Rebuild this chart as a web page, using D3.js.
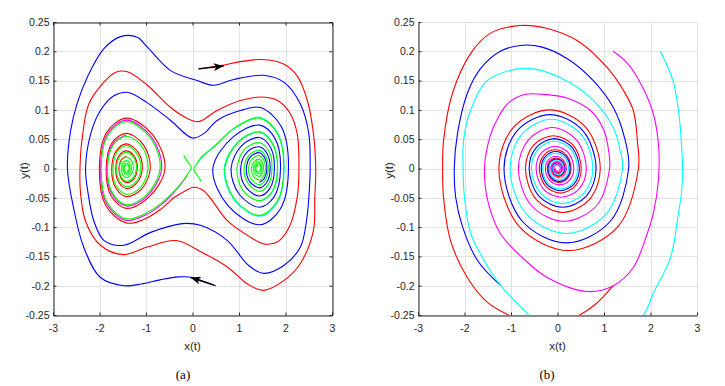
<!DOCTYPE html>
<html>
<head>
<meta charset="utf-8">
<style>
    body { margin: 0; background: #fff; }
    svg { display: block; }
    .tick text {
        font-family: 'Liberation Sans Narrow', 'Arial Narrow', 'Liberation Sans', Arial, sans-serif;
        font-size: 10.5px;
        fill: #262626;
    }
    .tick line { stroke: #262626; }
    .domain { stroke: #262626; }
    .grid line { stroke: #e2e2e2; shape-rendering: crispEdges; }
    .axis-label {
        font-family: 'Liberation Sans Narrow', 'Arial Narrow', 'Liberation Sans', Arial, sans-serif;
        font-size: 11.5px;
        fill: #262626;
    }
    .caption {
        font-family: 'Liberation Serif', 'Times New Roman', serif;
        font-size: 13px;
        fill: #000;
    }
    .traj { fill: none; stroke-width: 1.1; stroke-linejoin: round; }
</style>
</head>
<body>
<svg width="725" height="386"></svg>

<script src="https://d3js.org/d3.v7.min.js"></script>
<script>

// ---- ticks ----
let xTicks = [-3, -2, -1, 0, 1, 2, 3]
let xTickLabels = ["-3", "-2", "-1", "0", "1", "2", "3"]
let yTicks = [-0.25, -0.2, -0.15, -0.1, -0.05, 0, 0.05, 0.1, 0.15, 0.2, 0.25]
let yTickLabels = ["-0.25", "-0.2", "-0.15", "-0.1", "-0.05", "0", "0.05", "0.1", "0.15", "0.2", "0.25"]

// ---- panel (a): double well, points as [x, y] ----
let blueA = [[0.5,-0.2],[0.25,-0.193],[0,-0.186],[-0.3,-0.185],[-0.7,-0.19],[-1.1,-0.197],[-1.48,-0.2],[-1.98,-0.186],
    [-2.34,-0.134],[-2.55,-0.07],[-2.69,0],[-2.62,0.065],[-2.48,0.111],[-2.26,0.156],[-1.91,0.204],[-1.55,0.225],
    [-1.19,0.224],[-0.97,0.207],[-0.47,0.167],[0.1,0.15],[0.46,0.142],[0.89,0.152],[1.53,0.159],[1.97,0.147],
    [2.32,0.11],[2.5,0.06],[2.53,0],[2.51,-0.04],[2.45,-0.09],[2.32,-0.134],[1.97,-0.165],[1.53,-0.179],
    [1.2,-0.165],[0.75,-0.123],[0.17,-0.097],[-0.22,-0.094],[-0.9,-0.109],[-1.48,-0.131],[-1.9,-0.123],[-2.12,-0.09],
    [-2.25,-0.04],[-2.3,0],[-2.19,0.059],[-1.98,0.099],[-1.69,0.124],[-1.4,0.13],[-0.97,0.112],[-0.47,0.082],
    [0,0.052],[0.25,0.06],[0.53,0.082],[1.03,0.099],
    [1.46,0.104],[1.906,0.072],[2.064,0],[1.889,-0.069],[1.45,-0.096],[0.759,-0.063],[0.438,0],[0.876,0.054],
    [1.44,0.074],[1.775,0.051],[1.893,0],[1.757,-0.048],[1.44,-0.066],[1.004,-0.044],[0.83,0],[1.058,0.039],
    [1.44,0.053],[1.678,0.036],[1.762,0],[1.664,-0.034],[1.44,-0.047],[1.138,-0.031],[1.036,0],[1.173,0.028],
    [1.44,0.037],[1.605,0.025],[1.67,0],[1.595,-0.024],[1.44,-0.033],[1.227,-0.022],[1.16,0],[1.246,0.02],
    [1.44,0.027],[1.554,0.018],[1.601,0],[1.544,-0.017],[1.44,-0.0235]]

let redA = [[0.13,0.17],[0.64,0.176],[1.0,0.182],[1.5,0.186],[1.97,0.178],[2.25,0.158],[2.47,0.116],[2.6,0.06],
    [2.65,0],[2.63,-0.05],[2.6,-0.106],[2.32,-0.162],[1.97,-0.191],[1.53,-0.208],[1.2,-0.198],[0.75,-0.168],
    [0.2,-0.143],[-0.35,-0.123],[-0.97,-0.134],[-1.48,-0.147],[-1.98,-0.131],[-2.3,-0.09],[-2.41,-0.04],[-2.42,0],
    [-2.37,0.053],[-2.23,0.11],[-1.91,0.147],[-1.66,0.164],[-1.4,0.165],[-0.97,0.142],[-0.47,0.104],[-0.1,0.085],
    [0.13,0.08],[0.53,0.099],[1.03,0.116],[1.46,0.122],[1.83,0.116],[2.1,0.094],[2.25,0.06],[2.29,0],
    [2.25,-0.05],[2.08,-0.1],[1.85,-0.124],[1.55,-0.129],[1.2,-0.115],[0.75,-0.089],[0.24,-0.038],[0.02,-0.032],
    [-0.15,-0.038],[-0.4,-0.05],[-0.69,-0.07],[-1.05,-0.087],
    [-1.42,-0.093],[-1.859,-0.064],[-2.003,0],[-1.842,0.062],[-1.42,0.086],[-0.849,0.057],[-0.592,0],[-0.938,-0.049],
    [-1.42,-0.068],[-1.748,-0.047],[-1.856,0],[-1.73,0.044],[-1.42,0.06],[-1.051,0.04],[-0.908,0],[-1.095,-0.035],
    [-1.42,-0.048],[-1.654,-0.033],[-1.737,0],[-1.64,0.03],[-1.42,0.042],[-1.173,0.028],[-1.079,0],[-1.2,-0.025],
    [-1.42,-0.034],[-1.59,-0.023],[-1.65,0],[-1.58,0.022],[-1.42,0.03],[-1.246,0.02],[-1.188,0],[-1.265,-0.018],
    [-1.42,-0.024],[-1.539,-0.016],[-1.58,0],[-1.531,0.015],[-1.42,0.021]]

let magentaA = [[-0.12,-0.012],[-0.3,-0.032],[-0.6,-0.057],[-0.95,-0.077],
    [-1.42,-0.0885],[-1.839,-0.061],[-1.977,0],[-1.827,0.059],[-1.42,0.0825],[-0.885,0.054],[-0.664,0],[-0.972,-0.047],
    [-1.42,-0.064],[-1.73,-0.044],[-1.838,0],[-1.715,0.042],[-1.42,0.057]]

let cyanA = [[0.12,0.011],[0.3,0.026],[0.6,0.048],[0.95,0.071],
    [1.44,0.0875],[1.835,0.06],[1.971,0],[1.822,-0.058],[1.44,-0.0815],[0.894,-0.053],[0.681,0],[0.98,0.046],
    [1.44,0.063],[1.725,0.043],[1.832,0],[1.711,-0.041],[1.44,-0.056]]

let greenLeftA = [[-0.19,0.022],[-0.1,0.011],[-0.025,0.001],[-0.1,-0.009],[-0.19,-0.02],[-0.54,-0.05],[-0.95,-0.074],
    [-1.42,-0.086],[-1.829,-0.059],[-1.963,0],[-1.816,0.057],[-1.42,0.08],[-0.903,0.052],[-0.697,0],[-0.988,-0.045],
    [-1.42,-0.062],[-1.72,-0.042],[-1.826,0],[-1.707,0.04],[-1.42,0.055],[-1.081,0.037],[-0.957,0],[-1.124,-0.033],
    [-1.42,-0.044],[-1.64,-0.03],[-1.71,0],[-1.625,0.028],[-1.42,0.039],[-1.193,0.025],[-1.11,0],[-1.22,-0.023],
    [-1.42,-0.031],[-1.575,-0.021],[-1.63,0],[-1.565,0.02],[-1.42,0.0275],[-1.259,0.018],[-1.207,0],[-1.278,-0.016],
    [-1.42,-0.022],[-1.528,-0.015],[-1.57,0],[-1.523,0.014],[-1.42,0.0195],[-1.308,0.013],[-1.271,0],[-1.321,-0.011],
    [-1.42,-0.0155],[-1.497,-0.011],[-1.526,0],[-1.491,0.01],[-1.42,0.0135],[-1.342,0.009],[-1.315,0],[-1.348,-0.008],
    [-1.42,-0.011],[-1.473,-0.007],[-1.492,0],[-1.467,0.007],[-1.42,0.009],[-1.365,0.006],[-1.349,0],[-1.369,-0.0055],
    [-1.42,-0.0075],[-1.457,-0.0045],[-1.468,0],[-1.454,0.004],[-1.415,0.006],[-1.375,0.004],[-1.362,0],[-1.378,-0.0035],[-1.415,-0.0045]]

let greenRightA = [[0.19,-0.022],[0.1,-0.011],[0.025,-0.001],[0.1,0.009],[0.19,0.02],[0.45,0.036],[0.88,0.068],
    [1.44,0.086],[1.829,0.059],[1.963,0],[1.816,-0.057],[1.44,-0.08],[0.903,-0.052],[0.697,0],[0.988,0.045],
    [1.44,0.062],[1.72,0.042],[1.826,0],[1.707,-0.04],[1.44,-0.055],[1.081,-0.037],[0.957,0],[1.124,0.033],
    [1.44,0.044],[1.64,0.03],[1.71,0],[1.625,-0.028],[1.44,-0.039],[1.193,-0.025],[1.11,0],[1.22,0.023],
    [1.44,0.031],[1.575,0.021],[1.63,0],[1.565,-0.02],[1.44,-0.0275],[1.259,-0.018],[1.207,0],[1.278,0.016],
    [1.44,0.022],[1.528,0.015],[1.57,0],[1.523,-0.014],[1.44,-0.0195],[1.308,-0.013],[1.271,0],[1.321,0.011],
    [1.44,0.0155],[1.497,0.011],[1.526,0],[1.491,-0.01],[1.44,-0.0135],[1.342,-0.009],[1.315,0],[1.348,0.008],
    [1.44,0.011],[1.473,0.007],[1.492,0],[1.467,-0.007],[1.44,-0.009],[1.365,-0.006],[1.349,0],[1.369,0.0055],
    [1.44,0.0075],[1.457,0.0045],[1.468,0],[1.454,-0.004],[1.415,-0.006],[1.375,-0.004],[1.362,0],[1.378,0.0035],[1.415,0.0045]]

// black arrows drawn over the start of the red and blue runs
let arrowsA = [[[0.13, 0.17], [0.67, 0.175]], [[0.46, -0.199], [-0.04, -0.186]]]

// ---- panel (b): spirals into the origin ----
let redB = [[1.2,-0.2],[0.8,-0.233],[0.43,-0.252],[0,-0.266],[-0.5,-0.265],[-1.05,-0.25],[-1.5,-0.229],[-1.94,-0.186],
    [-2.3,-0.123],[-2.45,-0.05],[-2.47,0],[-2.45,0.048],[-2.26,0.128],[-1.87,0.196],[-1.44,0.231],[-0.8,0.244],
    [-0.22,0.239],[0.43,0.218],[1.07,0.172],[1.42,0.133],[1.63,0.099],[1.72,0.045],[1.74,0],
    [1.30,-0.099],[0.24,-0.14],[-0.82,-0.099],[-1.26,0],
    [-0.94,0.071],[-0.17,0.1],[0.6,0.071],[0.92,0],
    [0.685,-0.053],[0.115,-0.075],[-0.455,-0.053],[-0.69,0],
    [-0.514,0.04],[-0.09,0.056],[0.334,0.04],[0.51,0],
    [0.378,-0.03],[0.06,-0.042],[-0.258,-0.03],[-0.39,0],
    [-0.29,0.023],[-0.05,0.032],[0.19,0.023],[0.29,0],
    [0.215,-0.017],[0.035,-0.024],[-0.145,-0.017],[-0.22,0],
    [-0.164,0.013],[-0.028,0.018],[0.108,0.013],[0.165,0],
    [0.123,-0.0095],[0.021,-0.0135],[-0.081,-0.0095],[-0.123,0],
    [-0.092,0.007],[-0.016,0.01],[0.06,0.007],[0.092,0],
    [0.069,-0.0053],[0.012,-0.0075],[-0.045,-0.0053],[-0.069,0]]

let blueB = [[-1.22,-0.2],[-1.72,-0.157],[-2.04,-0.1],[-2.19,-0.049],[-2.22,0],[-2.15,0.06],[-1.94,0.128],[-1.66,0.17],
    [-1.23,0.2],[-0.8,0.21],[-0.37,0.208],[0.22,0.187],[0.77,0.15],[1.2,0.104],[1.45,0.05],[1.53,0],
    [1.137,-0.09],[0.19,-0.127],[-0.757,-0.09],[-1.15,0],
    [-0.86,0.065],[-0.16,0.092],[0.54,0.065],[0.83,0],
    [0.619,-0.047],[0.11,-0.066],[-0.399,-0.047],[-0.61,0],
    [-0.452,0.036],[-0.07,0.051],[0.312,0.036],[0.47,0],
    [0.35,-0.027],[0.06,-0.038],[-0.23,-0.027],[-0.35,0],
    [-0.259,0.0205],[-0.04,0.029],[0.179,0.0205],[0.27,0],
    [0.201,-0.0156],[0.035,-0.022],[-0.131,-0.0156],[-0.2,0],
    [-0.15,0.0113],[-0.027,0.016],[0.096,0.0113],[0.147,0],
    [0.11,-0.0085],[0.019,-0.012],[-0.072,-0.0085],[-0.11,0],
    [-0.082,0.0064],[-0.014,0.009],[0.054,0.0064],[0.083,0]]

let cyanB = [[2.21,0.2],[2.36,0.175],[2.5,0.145],[2.6,0.1],[2.65,0.06],[2.69,0],[2.67,-0.04],[2.6,-0.077],
    [2.43,-0.152],[2.06,-0.213],[1.85,-0.25],[1.3,-0.29],[0.5,-0.31],[-0.2,-0.29],[-0.62,-0.25],[-1.22,-0.2],
    [-1.58,-0.157],[-1.87,-0.11],[-2.0,-0.05],[-2.03,0],[-2.02,0.048],[-1.87,0.099],[-1.51,0.15],[-0.86,0.17],
    [-0.52,0.17],[0.06,0.155],[0.71,0.121],[1.2,0.07],[1.35,0.03],[1.4,0],
    [1.045,-0.078],[0.19,-0.111],[-0.665,-0.078],[-1.02,0],
    [-0.759,0.059],[-0.13,0.084],[0.499,0.059],[0.76,0],
    [0.567,-0.042],[0.1,-0.06],[-0.367,-0.042],[-0.56,0],
    [-0.415,0.033],[-0.065,0.047],[0.285,0.033],[0.43,0],
    [0.32,-0.025],[0.055,-0.035],[-0.21,-0.025],[-0.32,0],
    [-0.238,0.018],[-0.04,0.026],[0.158,0.018],[0.24,0],
    [0.178,-0.0138],[0.03,-0.0195],[-0.118,-0.0138],[-0.18,0],
    [-0.134,0.0103],[-0.023,0.0145],[0.088,0.0103],[0.134,0],
    [0.1,-0.0078],[0.017,-0.011],[-0.066,-0.0078],[-0.1,0],
    [-0.074,0.0058],[-0.0125,0.0082],[0.049,0.0058],[0.075,0]]

let magentaB = [[1.2,0.2],[1.5,0.18],[1.72,0.155],[2.04,0.099],[2.17,0.043],[2.17,-0.02],[2.06,-0.077],[1.93,-0.111],
    [1.63,-0.169],[1.2,-0.2],[0.65,-0.21],[-0.22,-0.186],[-0.73,-0.154],[-1.23,-0.111],[-1.5,-0.055],[-1.57,0],
    [-1.5,0.04],[-1.38,0.07],[-1.08,0.11],[-0.73,0.126],[-0.22,0.126],[0.22,0.12],[0.71,0.099],[1.0,0.065],
    [1.1,0.03],[1.12,0],
    [0.833,-0.064],[0.14,-0.09],[-0.553,-0.064],[-0.84,0],
    [-0.626,0.049],[-0.11,0.07],[0.406,0.049],[0.62,0],
    [0.462,-0.035],[0.08,-0.049],[-0.302,-0.035],[-0.46,0],
    [-0.341,0.027],[-0.055,0.038],[0.231,0.027],[0.35,0],
    [0.261,-0.02],[0.045,-0.028],[-0.171,-0.02],[-0.26,0],
    [-0.194,0.0148],[-0.035,0.021],[0.124,0.0148],[0.19,0],
    [0.141,-0.0111],[0.023,-0.0157],[-0.095,-0.0111],[-0.144,0],
    [-0.107,0.0083],[-0.018,0.0118],[0.071,0.0083],[0.108,0],
    [0.08,-0.0062],[0.014,-0.0088],[-0.052,-0.0062],[-0.08,0],
    [-0.059,0.0047],[-0.01,0.0066],[0.039,0.0047],[0.06,0],
    [0.045,-0.0035],[0.0075,-0.005],[-0.03,-0.0035],[-0.045,0]]

let svg = d3.select("svg")

svg.append("defs").append("marker")
    .attr("id", "head")
    .attr("markerUnits", "userSpaceOnUse")
    .attr("markerWidth", 11).attr("markerHeight", 8)
    .attr("refX", 10).attr("refY", 4)
    .attr("orient", "auto")
    .append("path")
    .attr("d", "M0,0 L10,4 L0,8 L2.5,4 Z")
    .attr("fill", "#000")

let panels = [
    {
        id: "a", left: 53, right: 332, top: 22, bottom: 315, box: true,
        caption: "(a)", captionX: 183, ylabX: 28,
        curves: [
            {points: blueA, color: "#0000ff"},
            {points: redA, color: "#ff0000"},
            {points: magentaA, color: "#ff00ff"},
            {points: cyanA, color: "#00ffff"},
            {points: greenLeftA, color: "#00ff00"},
            {points: greenRightA, color: "#00ff00"}
        ],
        arrows: arrowsA
    },
    {
        id: "b", left: 418, right: 697, top: 22, bottom: 315, box: false,
        caption: "(b)", captionX: 547, ylabX: 393,
        curves: [
            {points: redB, color: "#ff0000"},
            {points: blueB, color: "#0000ff"},
            {points: cyanB, color: "#00ffff"},
            {points: magentaB, color: "#ff00ff"}
        ],
        arrows: []
    }
]

panels.forEach(drawPanel)

function drawPanel(p) {
    let x = d3.scaleLinear().domain([-3, 3]).range([p.left, p.right])
    let y = d3.scaleLinear().domain([-0.25, 0.25]).range([p.bottom, p.top])

    let g = svg.append("g").attr("class", "panel-" + p.id)

    // grid
    let grid = g.append("g").attr("class", "grid")
    grid.selectAll(".gx").data(xTicks).join("line")
        .attr("class", "gx")
        .attr("x1", d => Math.round(x(d)) + 0.5).attr("x2", d => Math.round(x(d)) + 0.5)
        .attr("y1", p.top).attr("y2", p.bottom)
    grid.selectAll(".gy").data(yTicks).join("line")
        .attr("class", "gy")
        .attr("x1", p.left).attr("x2", p.right)
        .attr("y1", d => Math.round(y(d)) + 0.5).attr("y2", d => Math.round(y(d)) + 0.5)

    // trajectories
    svg.append("clipPath").attr("id", "clip-" + p.id)
        .append("rect")
        .attr("x", p.left).attr("y", p.top)
        .attr("width", p.right - p.left).attr("height", p.bottom - p.top)

    let line = d3.line()
        .x(d => x(d[0]))
        .y(d => y(d[1]))
        .curve(d3.curveCatmullRom.alpha(0.5))

    g.append("g")
        .attr("clip-path", "url(#clip-" + p.id + ")")
        .selectAll("path")
        .data(p.curves)
        .join("path")
        .attr("class", "traj")
        .attr("stroke", d => d.color)
        .attr("d", d => line(d.points))

    g.selectAll(".arrow")
        .data(p.arrows)
        .join("line")
        .attr("class", "arrow")
        .attr("x1", d => x(d[0][0])).attr("y1", d => y(d[0][1]))
        .attr("x2", d => x(d[1][0])).attr("y2", d => y(d[1][1]))
        .attr("stroke", "#000")
        .attr("stroke-width", 1.4)
        .attr("marker-end", "url(#head)")

    // axes
    let yAxis = d3.axisLeft(y)
        .tickValues(yTicks)
        .tickFormat((d, i) => yTickLabels[i])
        .tickSize(-3)
        .tickSizeOuter(0)
        .tickPadding(4)
    let xAxis = d3.axisBottom(x)
        .tickValues(xTicks)
        .tickFormat((d, i) => xTickLabels[i])
        .tickSize(-3)
        .tickSizeOuter(0)
        .tickPadding(9)

    g.append("g")
        .attr("transform", `translate(${p.left + 0.5},0)`)
        .call(yAxis)
    g.append("g")
        .attr("transform", `translate(0,${p.bottom + 0.5})`)
        .call(xAxis)

    if (p.box) {
        g.append("g")
            .attr("transform", `translate(0,${p.top + 0.5})`)
            .call(d3.axisTop(x).tickValues(xTicks).tickFormat("").tickSize(-3).tickSizeOuter(0))
        g.append("g")
            .attr("transform", `translate(${p.right + 0.5},0)`)
            .call(d3.axisRight(y).tickValues(yTicks).tickFormat("").tickSize(-3).tickSizeOuter(0))
    }

    // labels
    g.append("text")
        .attr("class", "axis-label")
        .attr("x", (p.left + p.right) / 2)
        .attr("y", 350)
        .attr("text-anchor", "middle")
        .text("x(t)")

    g.append("text")
        .attr("class", "axis-label")
        .attr("transform", `translate(${p.ylabX},${(p.top + p.bottom) / 2 + 2}) rotate(-90)`)
        .attr("text-anchor", "middle")
        .text("y(t)")

    g.append("text")
        .attr("class", "caption")
        .attr("x", p.captionX)
        .attr("y", 379)
        .attr("text-anchor", "middle")
        .text(p.caption)
}
</script>
</body>
</html>
